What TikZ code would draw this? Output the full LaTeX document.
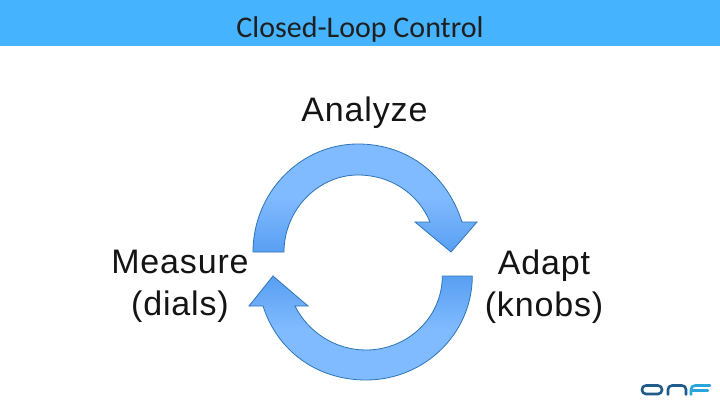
\documentclass[tikz,border=0pt]{standalone}
\usepackage{fontspec}
\setmainfont[LetterSpace=2.5]{Liberation Sans}
\newfontfamily\titlefont{Carlito}
\definecolor{banner}{HTML}{45B3FD}
\definecolor{arrowlight}{HTML}{80BAFF}
\definecolor{arrowdark}{HTML}{589FF2}
\definecolor{arrowline}{HTML}{2E75B6}
\definecolor{logodark}{HTML}{1F5C8C}
\definecolor{logolight}{HTML}{2AA5DC}
\tikzset{
  x=1pt,y=1pt,
  label text/.style={font=\fontsize{34}{42}\selectfont,align=center,text=black!92,inner sep=0pt},
  top arrow/.style={draw=arrowline,line width=0.8pt,line join=miter,top color=arrowlight,bottom color=arrowdark,middle color=arrowlight},
  bottom arrow/.style={draw=arrowline,line width=0.8pt,line join=miter,top color=arrowdark,bottom color=arrowlight,middle color=arrowlight},
  logo stroke/.style={line width=2.6pt,line cap=round,line join=round,rounded corners=4pt}
}
\begin{document}
\begin{tikzpicture}
\useasboundingbox (0,0) rectangle (720,405);
\fill[white] (0,0) rectangle (720,405);
\fill[banner] (0,358.5) rectangle (720,405);
\node[font=\titlefont\fontsize{30}{36}\selectfont,text=black!88,inner sep=0pt] (title) at (360,375.5) {Closed-Loop Control};
\node[label text] (analyze) at (364.5,292.5) {Analyze};
\node[label text] (measure) at (180,118.5) {Measure\\(dials)};
\node[label text] (adapt) at (544,118.5) {Adapt\\(knobs)};
% top arrow
\path[top arrow] (253,153) .. controls (253,212) and (300,261) .. (358,261)
  .. controls (408,261) and (447,230) .. (462,183)
  -- (477,183) -- (451,153) -- (415,183) -- (430,183)
  .. controls (418,212) and (390,230) .. (358,230)
  .. controls (318,230) and (284,195) .. (284,153) -- cycle;
% bottom arrow
\path[bottom arrow] (472.3,129) .. controls (472.3,72) and (425,25) .. (366,25)
  .. controls (316,25) and (277,55) .. (263,99)
  -- (249,99) -- (273,129) -- (308,99) -- (295,99)
  .. controls (308,73) and (335,55) .. (366,55)
  .. controls (408,55) and (442.3,88) .. (442.3,129) -- cycle;
% logo
\draw[logo stroke,logodark] (642,11) rectangle (662,19.5);
\draw[logo stroke,logodark] (668,10.5) -- (668,19.5) -- (686,19.5) -- (686,10.5);
\draw[logo stroke,logolight] (691,10.5) -- (691,19.5) -- (710,19.5);
\draw[line width=2.4pt,line cap=round,logolight] (692,14.5) -- (708,14.5);
\end{tikzpicture}
\end{document}
